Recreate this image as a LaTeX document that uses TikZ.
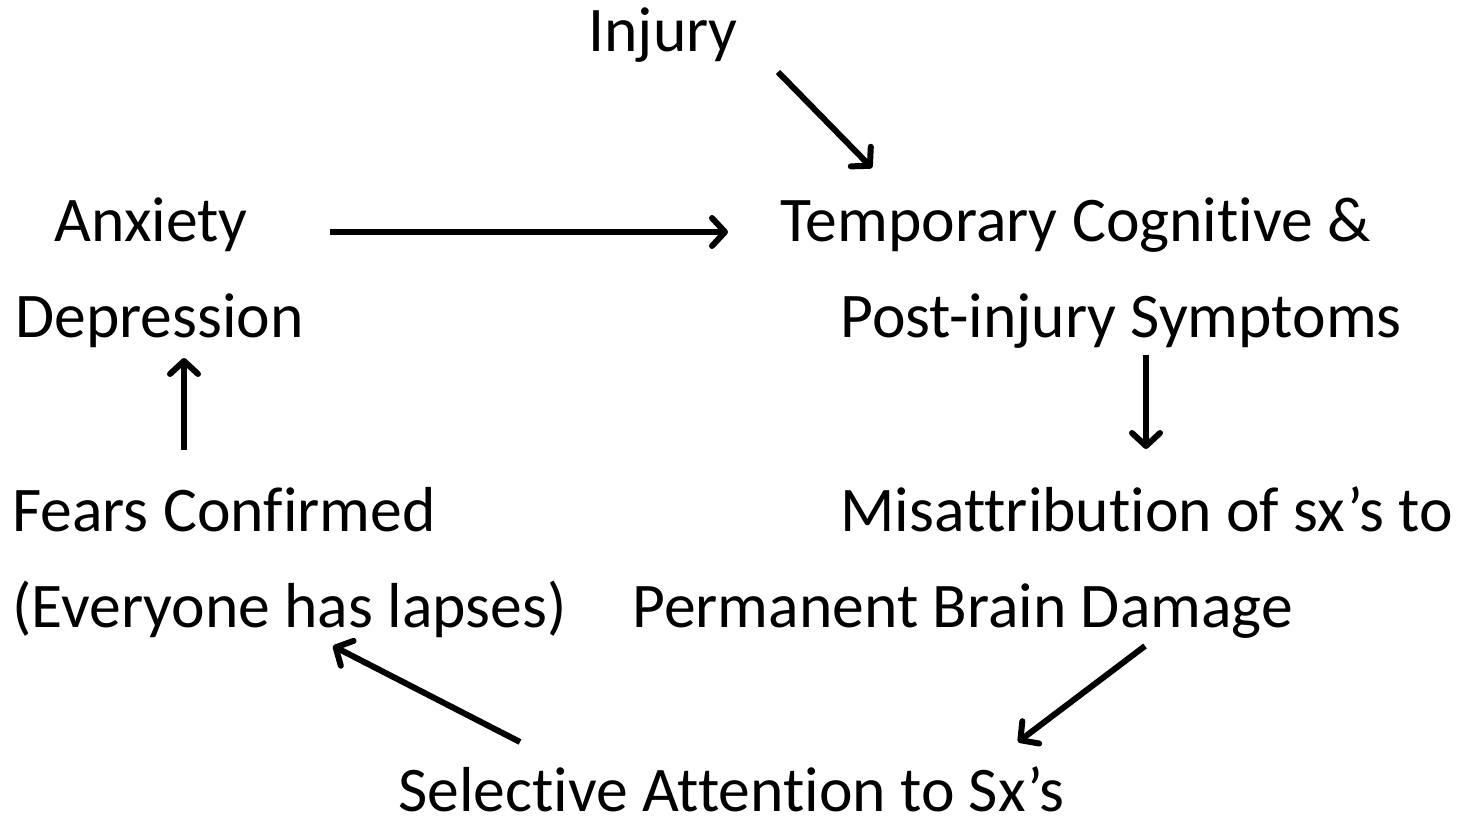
\documentclass[tikz,border=0pt]{standalone}
\usepackage{fontspec}
\setmainfont[RawFeature=-liga]{Carlito}
\usetikzlibrary{arrows.meta}
\begin{document}
\begin{tikzpicture}[x=0.5pt,y=-0.5pt,
  lbl/.style={anchor=base west,inner sep=0pt,font=\fontsize{31.8}{38}\selectfont},
  arr/.style={line width=3pt,-{Straight Barb[length=6.5pt,width=14pt,round]}}]
\useasboundingbox (0,0) rectangle (1458,823);
\node[lbl] (inj) at (588,52) {Injury};
\node[lbl] (anx) at (54,242) {Anxiety};
\node[lbl] (dep) at (15,338) {Depression};
\node[lbl] (fear) at (12,532) {Fears Confirmed};
\node[lbl] (every) at (12,628) {(Everyone has lapses)};
\node[lbl] (temp) at (780,242) {Temporary Cognitive \&};
\node[lbl] (post) at (840,338) {Post-injury Symptoms};
\node[lbl] (mis) at (840,532) {Misattribution of sx’s to};
\node[lbl] (perm) at (632,628) {Permanent Brain Damage};
\node[lbl,text depth=0pt] (sel) at (398,812) {Selective Attention to Sx’s};
\coordinate (a1s) at (778,72); \coordinate (a1e) at (872,168);
\coordinate (a2s) at (330,232); \coordinate (a2e) at (728,232);
\coordinate (a3s) at (1146,355); \coordinate (a3e) at (1146,449);
\coordinate (a4s) at (1145,646); \coordinate (a4e) at (1018,742);
\coordinate (a5s) at (520,742); \coordinate (a5e) at (333,646);
\coordinate (a6s) at (184,450); \coordinate (a6e) at (184,358);
\draw[arr] (a1s) -- (a1e);
\draw[arr] (a2s) -- (a2e);
\draw[arr] (a3s) -- (a3e);
\draw[arr] (a4s) -- (a4e);
\draw[arr] (a5s) -- (a5e);
\draw[arr] (a6s) -- (a6e);
\end{tikzpicture}
\end{document}
